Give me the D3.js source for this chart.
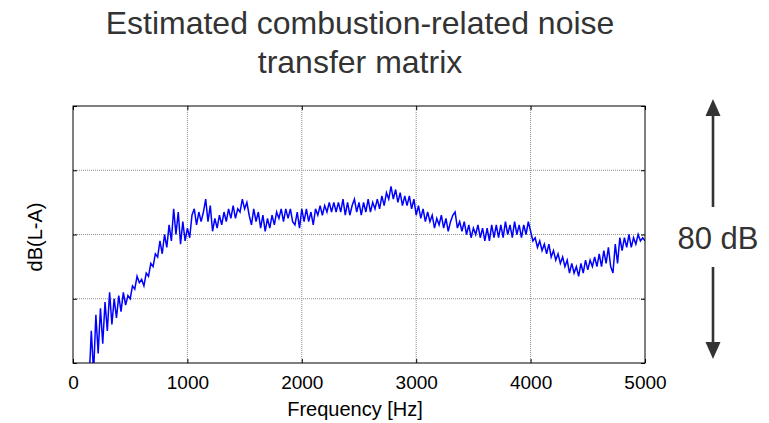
<!DOCTYPE html>
<html lang="en">
<head>
    <meta charset="UTF-8">
    <title>Estimated combustion-related noise transfer matrix</title>
    <script src="https://d3js.org/d3.v7.min.js"></script>
    <style>
        body { margin: 0; background: #fff; }
        text { font-family: "Liberation Sans", Arial, sans-serif; }
        .grid line { stroke: #8c8c8c; stroke-width: 1; stroke-dasharray: 1,1; }
        .axis path { display: none; }
        .axis line { stroke: #000; }
        .axis text { font-size: 19px; fill: #000; }
    </style>
</head>
<body>
    <svg width="769" height="423"></svg>
    <script>
        // tick labels and data
        const freqTicks = [0, 1000, 2000, 3000, 4000, 5000];
        const levelTicks = [0, 20, 40, 60, 80];
        const freqStart = 140, freqStep = 20;
        // level in dB, one value every 20 Hz from 140 Hz to 5000 Hz
        const levels = [
            -6, 10, -3, 15, 3, 17, 6, 19, 10, 22,
            12, 20, 14, 21, 16, 22, 18, 21, 20, 24,
            23, 27, 25, 26, 24, 28, 27, 31, 30, 34,
            33, 38, 34, 40, 36, 43, 38, 48, 40, 47,
            37, 44, 38, 42, 39, 46, 48, 43, 47, 44,
            47, 51, 44, 49, 41, 45, 42, 46, 43, 47,
            44, 48, 45, 49, 45, 48, 47, 51, 48, 50,
            46, 43, 48, 44, 47, 42, 46, 41, 45, 42,
            46, 43, 47, 45, 48, 44, 48, 45, 48, 44,
            43, 47, 42, 48, 44, 48, 44, 47, 43, 48,
            46, 49, 46, 49, 47, 50, 47, 50, 47, 50,
            47, 51, 46, 50, 46, 49, 51, 47, 50, 46,
            50, 47, 51, 47, 50, 48, 51, 48, 52, 49,
            53, 51, 55, 51, 54, 50, 53, 49, 52, 49,
            52, 48, 51, 46, 49, 45, 48, 44, 47, 44,
            46, 42, 45, 43, 46, 42, 45, 41, 44, 46,
            47, 42, 44, 41, 44, 40, 43, 39, 42, 40,
            43, 39, 42, 38, 42, 38, 43, 39, 43, 39,
            43, 39, 44, 40, 43, 39, 44, 40, 43, 39,
            43, 40, 44, 41, 38, 39, 36, 38, 35, 37,
            34, 37, 33, 35, 32, 34, 31, 33, 30, 32,
            28, 31, 28, 30, 27, 31, 28, 32, 29, 32,
            30, 33, 30, 34, 30, 35, 31, 36, 30, 28,
            37, 31, 39, 35, 39, 36, 40, 36, 39, 37,
            40, 38, 39, 38
        ];
        const series = levels.map((v, i) => ({ f: freqStart + i * freqStep, db: v }));

        const margin = { top: 106, left: 73 };
        const width = 572, height = 257;

        const svg = d3.select("svg");
        const g = svg.append("g")
            .attr("transform", `translate(${margin.left},${margin.top})`);

        const x = d3.scaleLinear().domain([0, 5000]).range([0, width]);
        const y = d3.scaleLinear().domain([0, 80]).range([height, 0]);

        // grid
        g.append("g").attr("class", "grid")
            .selectAll("line")
            .data(freqTicks.slice(1, -1))
            .join("line")
            .attr("x1", d => x(d)).attr("x2", d => x(d))
            .attr("y1", 0).attr("y2", height);
        g.append("g").attr("class", "grid")
            .selectAll("line")
            .data(levelTicks.slice(1, -1))
            .join("line")
            .attr("y1", d => y(d)).attr("y2", d => y(d))
            .attr("x1", 0).attr("x2", width);

        // clip for the line
        g.append("clipPath").attr("id", "plot-clip")
          .append("rect").attr("width", width).attr("height", height);

        const line = d3.line()
            .x(d => x(d.f))
            .y(d => y(d.db));

        g.append("path")
            .datum(series)
            .attr("clip-path", "url(#plot-clip)")
            .attr("fill", "none")
            .attr("stroke", "#0000ff")
            .attr("stroke-width", 1.5)
            .attr("d", line);

        // axes, ticks pointing inward
        g.append("g").attr("class", "axis")
            .attr("transform", `translate(0,${height})`)
            .call(d3.axisBottom(x).tickValues(freqTicks).tickSize(-4).tickPadding(13)
                .tickFormat(d3.format("d")));
        g.append("g").attr("class", "axis")
            .call(d3.axisTop(x).tickValues(freqTicks).tickSize(-4).tickFormat(""));
        g.append("g").attr("class", "axis")
            .call(d3.axisLeft(y).tickValues(levelTicks).tickSize(-4).tickFormat(""));
        g.append("g").attr("class", "axis")
            .attr("transform", `translate(${width},0)`)
            .call(d3.axisRight(y).tickValues(levelTicks).tickSize(-4).tickFormat(""));

        // frame
        g.append("rect")
            .attr("width", width).attr("height", height)
            .attr("fill", "none").attr("stroke", "#000").attr("stroke-width", 1);

        // labels
        g.append("text")
            .attr("x", 282).attr("y", height + 53)
            .attr("text-anchor", "middle")
            .attr("font-size", 20)
            .text("Frequency [Hz]");

        svg.append("text")
            .attr("transform", "translate(35,237) rotate(-90)")
            .attr("text-anchor", "middle")
            .attr("dy", "0.35em")
            .attr("font-size", 20)
            .text("dB(L-A)");

        // title
        const title = svg.append("text")
            .attr("text-anchor", "middle")
            .attr("font-size", 32)
            .attr("fill", "#333");
        title.append("tspan").attr("x", 360).attr("y", 34).text("Estimated combustion-related noise");
        title.append("tspan").attr("x", 360).attr("y", 73).text("transfer matrix");

        // 80 dB range arrow
        const ax = 713;
        const arrow = svg.append("g").attr("fill", "#333").attr("stroke", "#333");
        arrow.append("line").attr("x1", ax).attr("x2", ax).attr("y1", 113).attr("y2", 207)
            .attr("stroke-width", 2.6);
        arrow.append("line").attr("x1", ax).attr("x2", ax).attr("y1", 267).attr("y2", 345)
            .attr("stroke-width", 2.6);
        arrow.append("path").attr("stroke", "none")
            .attr("d", `M${ax},99 L${ax - 7.5},116 L${ax + 7.5},116 Z`);
        arrow.append("path").attr("stroke", "none")
            .attr("d", `M${ax},359 L${ax - 7.5},342 L${ax + 7.5},342 Z`);

        svg.append("text")
            .attr("x", 718).attr("y", 249)
            .attr("text-anchor", "middle")
            .attr("font-size", 31)
            .attr("fill", "#333")
            .text("80 dB");
    </script>
</body>
</html>
